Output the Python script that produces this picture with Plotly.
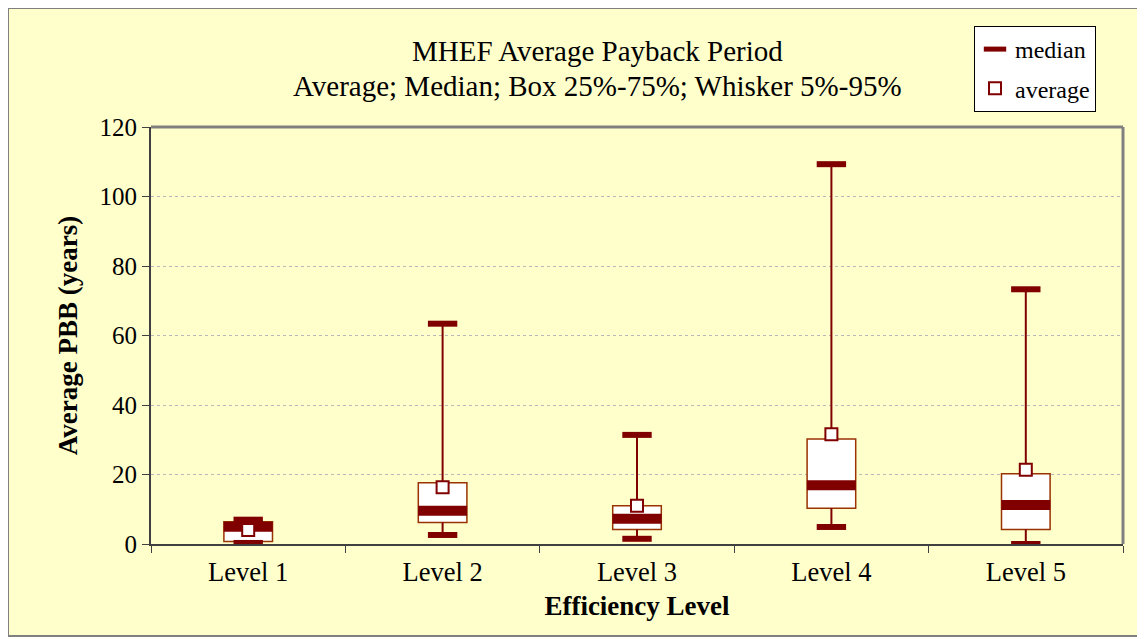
import plotly.graph_objects as go

categories = ["Level 1", "Level 2", "Level 3", "Level 4", "Level 5"]
p5 = [0.3, 2.6, 1.5, 4.9, 0.0]
q1 = [0.7, 6.2, 4.2, 10.3, 4.2]
median = [5.0, 9.6, 7.3, 16.9, 11.2]
q3 = [6.4, 17.6, 11.0, 30.2, 20.2]
p95 = [7.0, 63.4, 31.4, 109.3, 73.3]
average = [4.0, 16.3, 11.0, 31.6, 21.4]
y_ticks = [0, 20, 40, 60, 80, 100, 120]
title_lines = ["MHEF Average Payback Period",
               "Average; Median; Box 25%-75%; Whisker 5%-95%"]

DARK = "#800000"
BOXLINE = "#993300"
FONT = "Liberation Serif"

fig = go.Figure()

# whisker segments
wx, wy = [], []
for c, lo, a, b, hi in zip(categories, p5, q1, q3, p95):
    wx += [c, c, None, c, c, None]
    wy += [b, hi, None, lo, a, None]
fig.add_trace(go.Scatter(x=wx, y=wy, mode="lines", line=dict(color=DARK, width=2),
                         showlegend=False, hoverinfo="skip"))

# box 25%-75%
fig.add_trace(go.Bar(x=categories, y=[b - a for a, b in zip(q1, q3)], base=q1, width=0.25,
                     marker=dict(color="white", line=dict(color=BOXLINE, width=1.5)),
                     showlegend=False, hoverinfo="skip"))

# caps 5% / 95%
fig.add_trace(go.Scatter(x=categories + categories, y=p5 + p95, mode="markers",
                         marker=dict(symbol="line-ew", size=21, line=dict(color=DARK, width=6)),
                         showlegend=False, hoverinfo="skip"))

# median
fig.add_trace(go.Scatter(x=categories, y=median, mode="markers", name="median",
                         legendgroup="a",
                         marker=dict(symbol="line-ew", size=35, line=dict(color=DARK, width=10))))

# average
fig.add_trace(go.Scatter(x=categories, y=average, mode="markers", name="average",
                         legendgroup="b",
                         marker=dict(symbol="square", size=12, color="white",
                                     line=dict(color=DARK, width=2))))

OFF = 8  # page body margin
W, H = 1145 - OFF, 639 - OFF
L, R, T, B = 151 - OFF, 1123 - OFF, 127 - OFF, 544 - OFF
pw, ph = R - L, B - T

def px(x):
    return (x - OFF - L) / pw

def py(y):
    return (B - (y - OFF)) / ph

fig.update_layout(
    width=W, height=H,
    margin=dict(l=L, r=W - R, t=T, b=H - B),
    paper_bgcolor="white",
    plot_bgcolor="white",
    barmode="overlay",
    font=dict(family=FONT, color="black", size=25),
    annotations=[
        dict(text=title_lines[0], xref="paper", yref="paper", x=px(597), y=py(51),
             xanchor="center", yanchor="middle", showarrow=False,
             font=dict(family=FONT, size=29, color="black")),
        dict(text=title_lines[1], xref="paper", yref="paper", x=px(597), y=py(86),
             xanchor="center", yanchor="middle", showarrow=False,
             font=dict(family=FONT, size=29, color="black")),
    ],
    legend=dict(x=px(974), y=py(26), xanchor="left", yanchor="top",
                bgcolor="white", bordercolor="black", borderwidth=1,
                font=dict(family=FONT, size=24, color="black"),
                tracegroupgap=5, itemwidth=30),
    xaxis=dict(type="category", tickson="boundaries", ticks="outside", ticklen=7,
               tickcolor="#404040", showline=True, linecolor="#404040", linewidth=2,
               showgrid=False, tickfont=dict(size=26.5), ticklabelstandoff=3,
               title=dict(text="<b>Efficiency Level</b>", font=dict(size=27), standoff=10)),
    yaxis=dict(range=[0, 120], tickvals=y_ticks, ticks="outside", ticklen=7,
               tickcolor="#404040", showline=True, linecolor="#404040", linewidth=2,
               showgrid=True, gridcolor="#B8B8B8", griddash="dot", gridwidth=1,
               zeroline=False, tickfont=dict(size=25),
               title=dict(text="<b>Average PBB (years)</b>", font=dict(size=27), standoff=14)),
    shapes=[
        dict(type="rect", xref="paper", yref="paper", x0=px(8), x1=px(1140), y0=py(636), y1=py(8),
             fillcolor="#FFFFCC", line=dict(color="#808080", width=2), layer="below"),
        dict(type="line", xref="paper", yref="paper", x0=0, x1=1, y0=1, y1=1,
             line=dict(color="#808080", width=3)),
        dict(type="line", xref="paper", yref="paper", x0=1, x1=1, y0=0, y1=1,
             line=dict(color="#808080", width=3)),
    ],
)

fig.write_html("out.html")
